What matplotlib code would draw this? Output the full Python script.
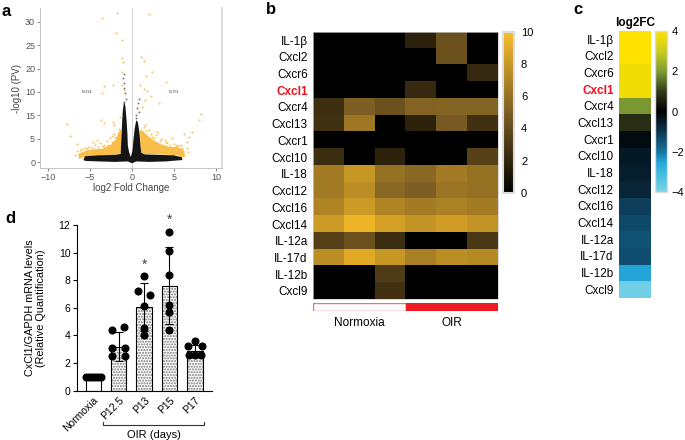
import matplotlib
matplotlib.use('Agg')
import matplotlib.pyplot as plt
from matplotlib.colors import LinearSegmentedColormap
from matplotlib.transforms import blended_transform_factory

plt.rcParams['font.family'] = ['Liberation Sans', 'DejaVu Sans']

# ---------------- data ----------------
# panel a (volcano): outlines of the dense clouds + single scattered points
vol_xticks = [-10, -5, 0, 5, 10]
vol_yticklabels = ['0', '5', '15', '10', '20', '25', '30']
black_cloud_x = [-5.8, -5.6, -4.0, -2.0, -1.35, -1.3, -1.2, -1.1, -0.95, -0.8, -0.65, -0.55, -0.5, -0.35,
                 -0.15, 0.05, 0.15, 0.3, 0.5, 0.7, 0.9, 1.0, 1.1, 1.5, 3.0, 5.0, 5.9, 6.0,
                 4.0, 2.0, 0.5, 0.0, -0.5, -2.0, -4.0, -5.5]
black_cloud_y = [0.5, 1.3, 1.5, 1.6, 1.8, 4.0, 8.0, 11.0, 13.0, 12.0, 9.0, 6.0, 3.5, 2.2,
                 1.1, 2.5, 4.5, 7.0, 9.0, 8.5, 6.0, 3.5, 2.0, 1.7, 1.6, 1.5, 1.1, 0.5,
                 0.2, 0.1, 0.2, -0.2, 0.2, 0.1, 0.2, 0.3]
orange_left_x = [-6.3, -6.4, -5.5, -4.5, -3.5, -2.5, -1.9, -1.5, -1.3, -1.3, -2.0, -5.5]
orange_left_y = [0.7, 1.8, 2.5, 2.8, 2.9, 3.8, 5.0, 6.5, 7.0, 1.9, 1.6, 1.3]
orange_right_x = [1.0, 0.95, 1.2, 1.8, 2.5, 3.5, 4.5, 5.5, 6.2, 6.3, 5.9, 5.5, 3.0]
orange_right_y = [1.8, 7.0, 6.8, 5.8, 4.8, 3.8, 3.3, 3.2, 2.5, 1.2, 1.0, 1.5, 1.7]
orange_pts_x = [-3.59, -1.8, -1.88, -1.2, -1.16, -1.1, -1.2, -2.32, -1.2, -3.28, -3.59, -1.0, -3.67, -2.28,
                -3.3, -1.4, -7.71, -7.39, -4.19, -4.7, -6.51, -2.37, -1.57, -2.16,
                1.99, 1.11, 1.39, 2.39, 1.67, 3.99, 0.99, 1.39, 1.79, 2.27, 1.59, 3.19, 1.23, 8.18, 7.97,
                7.18, 6.78, 6.18, 6.58,
                -5.9, -5.2, -4.4, -3.8, -3.0, -2.6, -2.2, -6.8, 1.5, 2.0, 2.8, 3.5, 4.2, 5.0, 5.8, 6.5,
                3.0, 4.8, -5.6, -4.9, -3.3, 2.4, 3.9, 5.3,
                -6.6, -6.2, -5.4, -4.6, -4.0, -3.5, -2.9, -2.4, -2.0, -1.7, -1.5,
                1.4, 1.7, 2.2, 2.6, 3.3, 4.0, 4.5, 5.2, 5.6, 6.0, 6.6]
orange_pts_y = [30.8, 31.8, 27.5, 26.0, 22.2, 21.3, 19.3, 16.5, 16.5, 16.3, 14.7, 15.4, 9.0, 8.7,
                8.4, 9.7, 8.2, 5.6, 4.7, 4.4, 3.9, 5.6, 6.5, 7.9,
                31.6, 22.4, 21.6, 19.3, 18.4, 17.2, 16.5, 15.6, 15.2, 14.1, 13.3, 12.6, 11.9, 10.3, 9.0,
                6.4, 5.5, 6.1, 4.4,
                2.9, 3.3, 3.6, 4.2, 4.5, 5.3, 6.0, 1.5, 8.0, 7.0, 5.8, 5.0, 4.4, 4.0, 3.8, 3.0,
                6.5, 5.2, 3.0, 3.2, 3.6, 5.5, 4.8, 3.6,
                2.4, 2.7, 2.9, 3.1, 3.3, 3.4, 3.8, 4.3, 5.5, 6.0, 7.2,
                7.5, 6.6, 6.0, 5.2, 4.6, 4.1, 3.8, 3.5, 3.4, 3.1, 2.2]
black_pts_x = [-1.1, -0.9, -1.0, -0.8, -0.7, -1.0, -0.95, 0.79, 0.68, 0.79, 0.52, 0.6, 0.45]
black_pts_y = [17.9, 16.9, 15.8, 14.7, 13.6, 12.9, 18.8, 13.5, 12.6, 10.8, 9.4, 11.5, 10.0]

# panel b / c: genes
genes = ['IL-1β', 'Cxcl2', 'Cxcr6', 'Cxcl1', 'Cxcr4', 'Cxcl13', 'Cxcr1', 'Cxcl10',
         'IL-18', 'Cxcl12', 'Cxcl16', 'Cxcl14', 'IL-12a', 'IL-17d', 'IL-12b', 'Cxcl9']
highlight_gene = 'Cxcl1'
heat_b = [
    [0.0, 0.0, 0.0, 1.8, 4.3, 0.0],
    [0.0, 0.0, 0.0, 0.0, 4.3, 0.0],
    [0.0, 0.0, 0.0, 0.0, 0.0, 2.2],
    [0.0, 0.0, 0.0, 2.2, 0.0, 0.0],
    [2.5, 5.0, 4.3, 5.2, 5.3, 5.3],
    [2.6, 6.3, 0.0, 1.8, 4.8, 2.6],
    [0.0, 0.0, 0.0, 0.0, 0.0, 0.0],
    [2.4, 0.0, 1.8, 0.0, 0.0, 3.5],
    [6.5, 8.0, 6.0, 5.5, 6.5, 6.0],
    [6.5, 7.5, 5.5, 5.0, 6.2, 6.0],
    [7.0, 8.2, 7.0, 6.5, 6.8, 6.5],
    [8.2, 9.5, 8.5, 7.8, 8.3, 7.8],
    [3.4, 4.3, 2.4, 0.0, 0.0, 3.0],
    [7.5, 9.0, 8.0, 6.7, 7.5, 7.3],
    [0.0, 0.0, 3.2, 0.0, 0.0, 0.0],
    [0.0, 0.0, 2.6, 0.0, 0.0, 0.0],
]
b_groups = ['Normoxia', 'OIR']
b_group_n = [3, 3]
log2fc = [4.0, 4.0, 3.75, 3.75, 1.95, 0.8, -0.2, -0.45, -0.55, -0.7, -1.15, -1.3, -1.45, -1.4, -2.5, -3.8]

# panel d
d_groups = ['Normoxia', 'P12.5', 'P13', 'P15', 'P17']
d_means = [1.0, 3.2, 6.05, 7.6, 2.9]
d_sd = [0.0, 1.05, 1.75, 2.8, 0.4]
d_points = [
    [1.0, 1.0, 1.0, 1.0, 1.0, 1.0],
    [4.4, 4.6, 3.1, 3.1, 2.5, 2.5],
    [8.3, 7.2, 6.9, 6.1, 4.55, 4.0],
    [11.5, 10.1, 8.4, 6.2, 5.7, 4.4],
    [3.6, 3.25, 3.25, 2.6, 2.6, 2.6],
]
d_signif = ['', '', '*', '*', '']

# ---------------- figure ----------------
fig = plt.figure(figsize=(6.85, 4.40), dpi=100)
W, H = 685.0, 440.0


def box(l, t, r, b):
    return [l / W, 1 - b / H, (r - l) / W, (b - t) / H]


# ---- a ----
axa = fig.add_axes(box(40, 8, 222, 168))
axa.axvline(0, color='#cccccc', lw=0.6, zorder=0)
axa.fill(orange_left_x, orange_left_y, color='#f8ad1c', alpha=0.8, lw=0)
axa.fill(orange_right_x, orange_right_y, color='#f8ad1c', alpha=0.8, lw=0)
axa.scatter(orange_pts_x, orange_pts_y, s=2.5, color='#f8ad1c', alpha=0.65, lw=0)
axa.fill(black_cloud_x, black_cloud_y, color='#151515', lw=0)
axa.scatter(black_pts_x, black_pts_y, s=2, color='#444444', alpha=0.7, lw=0)
axa.text(-5.3, 15, 'N=334', fontsize=2.5, color='#333333', ha='center', va='center')
axa.text(5.0, 15, 'N=751', fontsize=2.5, color='#333333', ha='center', va='center')
axa.set_xlim(-10.95, 10.7)
axa.set_ylim(-1.2, 32.9)
axa.set_xticks(vol_xticks)
axa.set_yticks(range(0, 31, 5))
axa.set_yticklabels(vol_yticklabels)
axa.tick_params(labelsize=6.5, colors='#555555', length=2, width=0.5, pad=1.5)
axa.spines['top'].set_visible(False)
for s in ['left', 'bottom']:
    axa.spines[s].set_color('#bbbbbb')
    axa.spines[s].set_linewidth(0.6)
axa.spines['right'].set_color('#dddddd')
axa.spines['right'].set_linewidth(1.5)
axa.set_xlabel('log2 Fold Change', fontsize=7, color='#444444', labelpad=1)
axa.set_ylabel('-log10 (PV)', fontsize=7, color='#444444', labelpad=2)
fig.text(2 / W, 1 - 12 / H, 'a', fontsize=12, fontweight='bold', va='center')

# ---- b ----
cmap_b = LinearSegmentedColormap.from_list('b', ['#000000', '#7d5f23', '#f9bd28'])
axb = fig.add_axes(box(313.3, 31.7, 498.3, 299.3))
imb = axb.imshow(heat_b, cmap=cmap_b, vmin=0, vmax=10, aspect='auto', interpolation='nearest')
axb.set_xticks([])
axb.set_yticks(range(len(genes)))
axb.set_yticklabels(genes, fontsize=8.5)
axb.tick_params(axis='y', length=0, pad=4)
for lab in axb.get_yticklabels():
    if lab.get_text() == highlight_gene:
        lab.set_color('#e8141c')
        lab.set_fontweight('bold')
for s in axb.spines.values():
    s.set_color('#cccccc')
    s.set_linewidth(0.5)

caxb = fig.add_axes(box(503, 31.7, 514, 192.7))
cbb = fig.colorbar(imb, cax=caxb, ticks=[0, 2, 4, 6, 8, 10])
cbb.outline.set_edgecolor('#dddddd')
cbb.outline.set_linewidth(1.5)
caxb.tick_params(labelsize=8, length=0, pad=5)

axg = fig.add_axes(box(313.3, 303.3, 498.3, 311.3))
left = 0
grp_colors = [('white', '#f07078'), ('#ee1c25', '#ee1c25')]
for name, n, (fc, ec) in zip(b_groups, b_group_n, grp_colors):
    axg.barh([0], [n], left=left, height=1, color=fc, edgecolor=ec, lw=1)
    axg.text(left + n / 2, -2.0, name, ha='center', va='center', fontsize=8.5)
    left += n
axg.set_xlim(0, sum(b_group_n))
axg.set_ylim(-0.5, 0.5)
axg.axis('off')
fig.text(266 / W, 1 - 10 / H, 'b', fontsize=12, fontweight='bold', va='center')

# ---- c ----
cmap_c = LinearSegmentedColormap.from_list('c', [
    (0.0, '#7dd4e6'), (0.125, '#3cb9e1'), (0.1875, '#23a5d7'), (0.25, '#1673a0'),
    (0.375, '#0c3750'), (0.5, '#000000'), (0.625, '#323a19'), (0.75, '#7d9b32'),
    (0.875, '#c8cd1e'), (1.0, '#ffe100')])
axc = fig.add_axes(box(619.3, 30.7, 650.7, 297.7))
imc = axc.imshow([[v] for v in log2fc], cmap=cmap_c, vmin=-4, vmax=4, aspect='auto',
                 interpolation='nearest')
axc.set_xticks([])
axc.set_yticks(range(len(genes)))
axc.set_yticklabels(genes, fontsize=8.5)
axc.tick_params(axis='y', length=0, pad=4)
for lab in axc.get_yticklabels():
    if lab.get_text() == highlight_gene:
        lab.set_color('#e8141c')
        lab.set_fontweight('bold')
for s in axc.spines.values():
    s.set_visible(False)
axc.text(0.5, 1.008, 'log2FC', transform=axc.transAxes, ha='center', va='bottom',
         fontsize=8.5, fontweight='bold')

caxc = fig.add_axes(box(655, 31, 667.3, 192.3))
cbc = fig.colorbar(imc, cax=caxc, ticks=[-4, -2, 0, 2, 4])
cbc.outline.set_edgecolor('#dddddd')
cbc.outline.set_linewidth(1.0)
caxc.tick_params(labelsize=8, length=0, pad=3)
fig.text(573 / W, 1 - 10 / H, 'c', fontsize=12, fontweight='bold', va='center')

# ---- d ----
axd = fig.add_axes(box(76.7, 225, 211.7, 390.7))
xs = list(range(len(d_groups)))
bw = 0.6
axd.bar(xs[0], d_means[0], bw, color='white', edgecolor='black', lw=0.8, zorder=2)
axd.bar(xs[1:], d_means[1:], bw, color='white', edgecolor='#777777', hatch='......', lw=0, zorder=2)
axd.bar(xs[1:], d_means[1:], bw, color='none', edgecolor='black', lw=0.8, zorder=3)
axd.errorbar(xs[1:], d_means[1:], yerr=d_sd[1:], fmt='none', ecolor='black', elinewidth=0.8,
             capsize=3, capthick=0.8, zorder=4)
dot_offsets = [
    [-0.3, -0.18, -0.06, 0.06, 0.18, 0.3],
    [-0.27, 0.22, -0.25, 0.25, -0.25, 0.25],
    [0.0, -0.22, 0.25, 0.0, 0.0, 0.0],
    [0.0, 0.0, 0.0, 0.0, 0.0, 0.0],
    [0.0, -0.28, 0.28, -0.25, 0.0, 0.25],
]
for i, (pts, offs) in enumerate(zip(d_points, dot_offsets)):
    axd.plot([i + o for o in offs], pts, 'o', color='black', ms=4.8, zorder=5, clip_on=False)
for i, s in enumerate(d_signif):
    if s:
        top = max(d_points[i])
        axd.text(i, top + 0.85, s, ha='center', va='center', fontsize=10, color='#444444')
axd.set_xlim(-0.65, 4.66)
axd.set_ylim(0, 12)
axd.set_yticks(range(0, 13, 2))
axd.set_xticks(xs)
axd.set_xticklabels(d_groups, rotation=45, ha='right', va='top', rotation_mode='anchor', fontsize=7.5)
axd.tick_params(axis='y', labelsize=7.5, length=3, width=0.8, pad=1.5)
axd.tick_params(axis='x', length=0, pad=3)
axd.spines['top'].set_visible(False)
axd.spines['right'].set_visible(False)
for s in ['left', 'bottom']:
    axd.spines[s].set_linewidth(0.8)
axd.set_ylabel('CxCl1/GAPDH mRNA levels\n(Relative Quantification)', fontsize=7.8, labelpad=9,
               linespacing=1.15)
tr = blended_transform_factory(axd.transData, axd.transAxes)
axd.plot([0.4, 0.4, 4.35, 4.35], [-0.19, -0.207, -0.207, -0.19], color='#333333', lw=0.8,
         transform=tr, clip_on=False)
axd.text(2.37, -0.27, 'OIR (days)', transform=tr, ha='center', va='center', fontsize=8)
fig.text(5 / W, 1 - 218 / H, 'd', fontsize=12, fontweight='bold', va='center')

fig.savefig('out.png', dpi=100)
